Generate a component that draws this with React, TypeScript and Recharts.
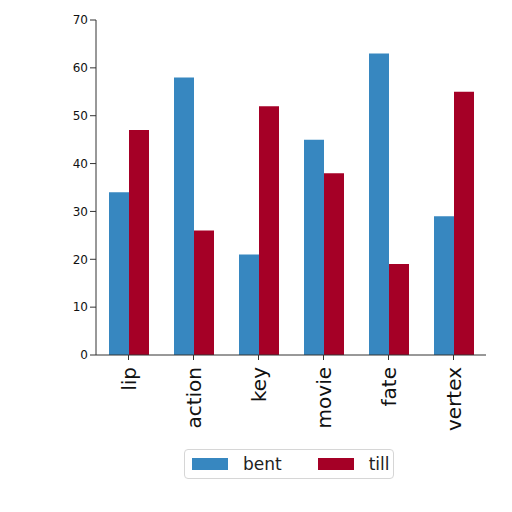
import { BarChart, Bar, XAxis, YAxis } from "recharts";

const categories = ["lip", "action", "key", "movie", "fate", "vertex"];
const bentValues = [34, 58, 21, 45, 63, 29];
const tillValues = [47, 26, 52, 38, 19, 55];
const seriesNames = ["bent", "till"];
const seriesColors = ["#3787c0", "#a50026"];

const chartData = categories.map((name, i) => ({
  name,
  bent: bentValues[i],
  till: tillValues[i],
}));

const FONT = "'DejaVu Sans', sans-serif";

function RotatedTick(props: any) {
  const { x, y, payload } = props;
  return (
    <text
      x={x}
      y={y}
      transform={`rotate(-90, ${x}, ${y})`}
      textAnchor="end"
      dominantBaseline="central"
      fontSize={20}
      fontFamily={FONT}
      fill="#111"
    >
      {payload.value}
    </text>
  );
}

export default function App() {
  return (
    <div
      style={{
        position: "absolute",
        left: 0,
        top: 0,
        width: 512,
        height: 512,
        background: "#fff",
      }}
    >
      <BarChart
        width={512}
        height={512}
        data={chartData}
        margin={{ top: 20, right: 26, bottom: 57, left: 56 }}
        barCategoryGap="20%"
        barGap={0}
      >
        <XAxis
          dataKey="name"
          height={100}
          interval={0}
          tick={<RotatedTick />}
          tickSize={5}
          tickMargin={7}
          stroke="#333"
        />
        <YAxis
          width={40}
          domain={[0, 70]}
          ticks={[0, 10, 20, 30, 40, 50, 60, 70]}
          tick={{ fontSize: 12, fontFamily: FONT, fill: "#111" }}
          stroke="#333"
        />
        <Bar dataKey="bent" name={seriesNames[0]} fill={seriesColors[0]} isAnimationActive={false} />
        <Bar dataKey="till" name={seriesNames[1]} fill={seriesColors[1]} isAnimationActive={false} />
      </BarChart>
      <div
        style={{
          position: "absolute",
          left: 184,
          top: 449,
          width: 210,
          height: 30,
          boxSizing: "border-box",
          border: "1px solid #d6d6d6",
          borderRadius: 4,
          background: "#fff",
          display: "flex",
          alignItems: "center",
          paddingLeft: 7,
          fontFamily: FONT,
          fontSize: 17,
          color: "#222",
        }}
      >
        {seriesNames.map((s, i) => (
          <div key={s} style={{ display: "flex", alignItems: "center", marginRight: i === 0 ? 36 : 0 }}>
            <span style={{ width: 36, height: 12, background: seriesColors[i], marginRight: 15 }} />
            <span>{s}</span>
          </div>
        ))}
      </div>
    </div>
  );
}
